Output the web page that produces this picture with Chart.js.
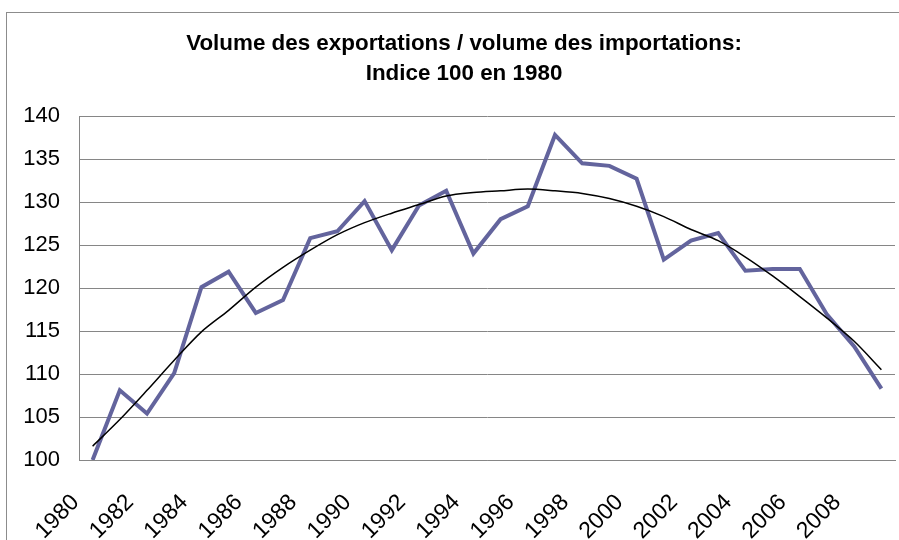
<!DOCTYPE html>
<html>
<head>
<meta charset="utf-8">
<script src="https://cdn.jsdelivr.net/npm/chart.js@4.4.1/dist/chart.umd.min.js"></script>
<style>
html, body { margin: 0; padding: 0; background: #ffffff; }
#wrap { position: relative; width: 899px; height: 540px; }
</style>
</head>
<body>
<div id="wrap"><canvas id="c" width="899" height="540"></canvas></div>
<script>
const years = ["1980","1981","1982","1983","1984","1985","1986","1987","1988","1989",
               "1990","1991","1992","1993","1994","1995","1996","1997","1998","1999",
               "2000","2001","2002","2003","2004","2005","2006","2007","2008","2009"];
const ratio = [100.0, 108.1, 105.4, 110.1, 120.1, 121.9, 117.1, 118.6, 125.8, 126.6,
               130.1, 124.4, 129.6, 131.3, 124.0, 128.0, 129.5, 137.8, 134.5, 134.2,
               132.7, 123.3, 125.5, 126.4, 122.0, 122.2, 122.2, 116.9, 113.2, 108.3];
const trend = [101.6, 104.7, 108.1, 111.6, 114.9, 117.4, 120.1, 122.4, 124.4, 126.2,
               127.6, 128.7, 129.7, 130.7, 131.1, 131.3, 131.5, 131.3, 131.0, 130.4,
               129.5, 128.3, 126.8, 125.5, 123.6, 121.4, 119.0, 116.5, 113.8, 110.5];
const yTicks = [100, 105, 110, 115, 120, 125, 130, 135, 140];
const titleLines = ["Volume des exportations / volume des importations:", "Indice 100 en 1980"];

const frame = {
  id: 'frame',
  beforeDraw(chart) {
    const ctx = chart.ctx;
    ctx.save();
    ctx.fillStyle = '#ffffff';
    ctx.fillRect(0, 0, chart.width, chart.height);
    ctx.strokeStyle = '#8c8c8c';
    ctx.lineWidth = 1;
    ctx.strokeRect(6.5, 12.5, 960, 600);
    ctx.restore();
  },
  afterDraw(chart) {
    const ctx = chart.ctx;
    ctx.save();
    ctx.fillStyle = '#000000';
    ctx.font = "bold 22.4px 'Liberation Sans', Arial, sans-serif";
    ctx.textAlign = 'center';
    ctx.textBaseline = 'middle';
    titleLines.forEach((t, i) => ctx.fillText(t, 464, 44 + i * 30));
    ctx.restore();
  }
};

new Chart(document.getElementById('c'), {
  type: 'line',
  data: {
    labels: years,
    datasets: [
      { label: 'Ratio', data: ratio, borderColor: '#63649d', borderWidth: 4,
        pointRadius: 0, tension: 0, fill: false, order: 1, borderJoinStyle: 'miter' },
      { label: 'Tendance', data: trend, borderColor: '#000000', borderWidth: 1.5,
        pointRadius: 0, tension: 0.3, fill: false, order: 0 }
    ]
  },
  options: {
    responsive: false,
    devicePixelRatio: 1,
    animation: false,
    layout: { padding: { left: 0, right: 4, top: 116, bottom: 0 } },
    plugins: {
      legend: { display: false },
      tooltip: { enabled: false },
      title: { display: false }
    },
    scales: {
      x: {
        type: 'category',
        offset: true,
        grid: { display: false, drawTicks: false },
        border: { display: true, color: '#868686', width: 1 },
        ticks: {
          autoSkip: false,
          minRotation: 45, maxRotation: 45,
          labelOffset: -17,
          padding: 29,
          color: '#000000',
          font: { family: "'Liberation Sans', Arial, sans-serif", size: 23 },
          callback: function(v, i) { return i % 2 === 0 ? years[i] : ''; }
        },
        afterFit(scale) { scale.height = 80; scale.paddingLeft = 0; scale.paddingRight = 0; }
      },
      y: {
        min: 100, max: 140,
        afterBuildTicks(scale) { scale.ticks = yTicks.map(v => ({ value: v })); },
        grid: { color: '#868686', lineWidth: 1, drawTicks: false },
        border: { display: true, color: '#868686', width: 1 },
        ticks: {
          padding: 19,
          color: '#000000',
          font: { family: "'Liberation Sans', Arial, sans-serif", size: 22 }
        },
        afterFit(scale) { scale.width = 79; scale.paddingTop = 0; scale.paddingBottom = 0; }
      }
    }
  },
  plugins: [frame]
});
</script>
</body>
</html>
